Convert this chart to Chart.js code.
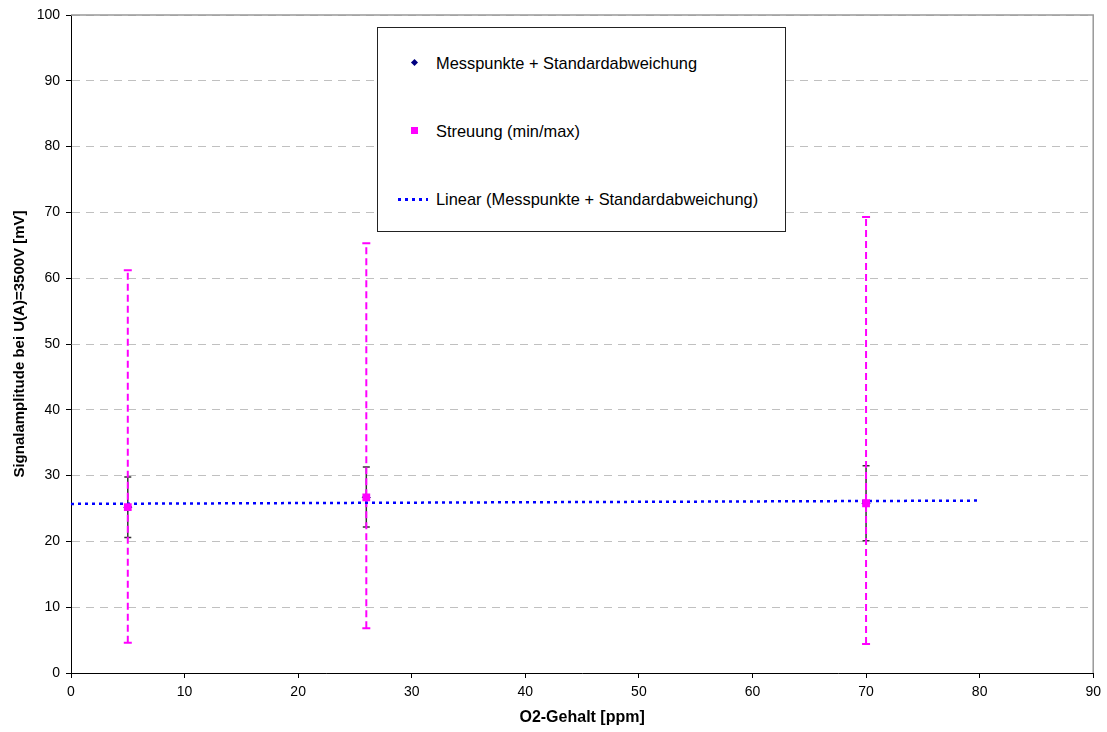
<!DOCTYPE html>
<html>
<head>
<meta charset="utf-8">
<script src="https://cdn.jsdelivr.net/npm/chart.js@4.4.1/dist/chart.umd.min.js"></script>
<style>
  body { margin: 0; background: #fff; }
  #wrap { position: relative; width: 1107px; height: 732px; }
  #legend {
    position: absolute; left: 377px; top: 27px; width: 407px; height: 203px;
    border: 1px solid #222; background: #fff;
    font-family: "Liberation Sans", Arial, sans-serif; font-size: 16.4px; color: #000;
  }
  .item { position: absolute; left: 0; height: 20px; line-height: 20px; }
  .item span.txt { position: absolute; left: 58px; white-space: nowrap; }
  .mark { position: absolute; }
</style>
</head>
<body>
<div id="wrap">
  <canvas id="myChart" width="1107" height="732"></canvas>
  <div id="legend"></div>
</div>
<script>
// O2 content of the three measurements
const o2Values = [5, 26, 70];
// mean signal and standard deviation range
const meanValues = [25.2, 26.7, 25.8];
const stdLow = [20.6, 22.2, 20.1];
const stdHigh = [29.8, 31.3, 31.5];
// scatter (min/max), point drawn at the mean
const streuungValues = [25.2, 26.7, 25.8];
const minValues = [4.6, 6.8, 4.4];
const maxValues = [61.2, 65.3, 69.3];
// linear trend endpoints
const trendX = [0, 80];
const trendY = [25.7, 26.2];

const legendLabels = [
  "Messpunkte + Standardabweichung",
  "Streuung (min/max)",
  "Linear (Messpunkte + Standardabweichung)"
];

const fontFamily = "'Liberation Sans', Arial, sans-serif";

const datasets = [];

// std deviation bars (black, solid)
o2Values.forEach((x, i) => {
  datasets.push({
    label: "std" + i,
    data: [{ x: x, y: stdLow[i] }, { x: x, y: stdHigh[i] }],
    showLine: true,
    borderColor: "#333",
    borderWidth: 1.5,
    pointStyle: "line",
    pointRadius: 3.5,
    pointBorderColor: "#333",
    pointBorderWidth: 1.5,
    order: 6
  });
});

datasets.push({
  label: legendLabels[0],
  data: o2Values.map((x, i) => ({ x: x, y: meanValues[i] })),
  pointStyle: "rectRot",
  pointRadius: 4,
  backgroundColor: "#000080",
  borderColor: "#000080",
  order: 5
});

// min/max bars (magenta, dashed)
o2Values.forEach((x, i) => {
  datasets.push({
    label: "minmax" + i,
    data: [{ x: x, y: minValues[i] }, { x: x, y: maxValues[i] }],
    showLine: true,
    borderColor: "#ff00ff",
    borderWidth: 2,
    borderDash: [7, 4],
    pointStyle: "line",
    pointRadius: 4,
    pointBorderColor: "#ff00ff",
    pointBorderWidth: 2,
    order: 4
  });
});

datasets.push({
  label: legendLabels[2],
  data: trendX.map((x, i) => ({ x: x, y: trendY[i] })),
  showLine: true,
  borderColor: "#0000ff",
  borderWidth: 2.5,
  borderDash: [3, 4],
  pointRadius: 0,
  order: 3
});

datasets.push({
  label: legendLabels[1],
  data: o2Values.map((x, i) => ({ x: x, y: streuungValues[i] })),
  pointStyle: "rect",
  pointRadius: 5.5,
  backgroundColor: "#ff00ff",
  borderColor: "#ff00ff",
  borderWidth: 0,
  order: 1
});

// gray frame on top and right of the plot area
const frame = {
  id: "frame",
  beforeDatasetsDraw(chart) {
    const { ctx, chartArea: a } = chart;
    ctx.save();
    ctx.strokeStyle = "#999";
    ctx.lineWidth = 1.5;
    ctx.beginPath();
    ctx.moveTo(a.left, a.top);
    ctx.lineTo(a.right, a.top);
    ctx.lineTo(a.right, a.bottom);
    ctx.stroke();
    ctx.restore();
  }
};

const ctx = document.getElementById("myChart").getContext("2d");
const myChart = new Chart(ctx, {
  type: "scatter",
  data: { datasets: datasets },
  plugins: [frame],
  options: {
    responsive: false,
    animation: false,
    layout: { padding: { top: 15, right: 12, left: 0, bottom: 0 } },
    plugins: { legend: { display: false }, tooltip: { enabled: false } },
    scales: {
      x: {
        type: "linear",
        min: 0, max: 90,
        ticks: { stepSize: 10, color: "#000", padding: 6, font: { family: fontFamily, size: 14 } },
        grid: { drawOnChartArea: false, drawTicks: true, tickLength: 5, tickColor: "#000" },
        border: { color: "#000", width: 1 },
        title: {
          display: true, text: "O2-Gehalt [ppm]", color: "#000",
          font: { family: fontFamily, size: 16, weight: "bold" },
          padding: { top: 0, bottom: 5 }
        },
        afterFit: (scale) => { scale.height = 59; }
      },
      y: {
        min: 0, max: 100,
        ticks: { stepSize: 10, color: "#000", padding: 6, font: { family: fontFamily, size: 14 } },
        grid: { color: "#c0c0c0", lineWidth: 1, tickLength: 5, tickColor: "#000" },
        border: { color: "#000", width: 1, dash: [8, 6] },
        title: {
          display: true, text: "Signalamplitude bei U(A)=3500V [mV]", color: "#000",
          font: { family: fontFamily, size: 15, weight: "bold" },
          padding: { top: 11, bottom: 0 }
        },
        afterFit: (scale) => { scale.width = 71; }
      }
    }
  }
});

// legend box inside the plot
const legendEl = document.getElementById("legend");
const rows = [35, 103, 171];
const marks = [
  "left:34px;top:7px;width:5px;height:5px;background:#000080;transform:rotate(45deg);",
  "left:33px;top:6px;width:7px;height:7px;background:#ff00ff;",
  "left:20px;top:9px;width:30px;height:2.5px;background:repeating-linear-gradient(90deg,#0000ff 0 3px,transparent 3px 7px);"
];
legendLabels.forEach((label, i) => {
  const item = document.createElement("div");
  item.className = "item";
  item.style.top = (rows[i] - 10) + "px";
  const m = document.createElement("div");
  m.className = "mark";
  m.style.cssText = marks[i];
  const t = document.createElement("span");
  t.className = "txt";
  t.appendChild(document.createTextNode(label));
  item.appendChild(m);
  item.appendChild(t);
  legendEl.appendChild(item);
});
</script>
</body>
</html>
